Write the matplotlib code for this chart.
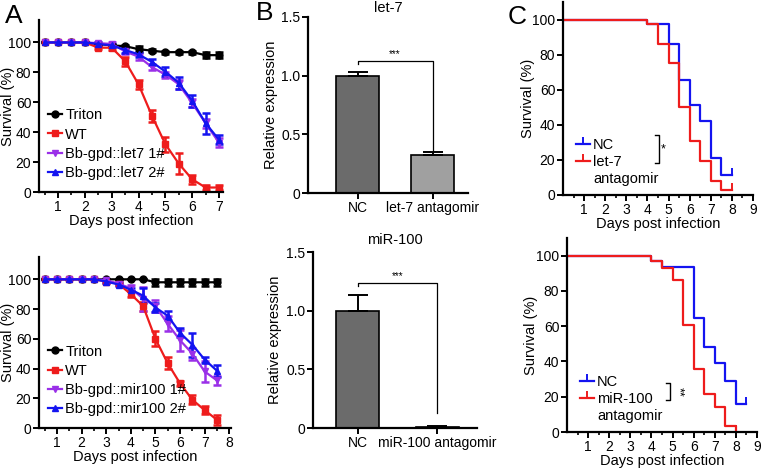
import numpy as np
import matplotlib
matplotlib.use("Agg")
import matplotlib.pyplot as plt
from matplotlib.lines import Line2D

plt.rcParams['font.family'] = ['Liberation Sans', 'DejaVu Sans']

# ---- panel A data (survival %, mean and error) ----
days_a1 = [0.5, 1, 1.5, 2, 2.5, 3, 3.5, 4, 4.5, 5, 5.5, 6, 6.5, 7]
triton_1 = [100, 100, 100, 100, 99, 98, 97.5, 95.5, 94.5, 93.5, 93.5, 93.5, 91.5, 91.5]
triton_1_err = [0, 0, 0, 0, 0.5, 1, 1, 2, 1, 1, 1, 1, 2, 2]
wt_1 = [100, 100, 100, 100, 96.5, 96.5, 87.5, 72, 51, 32, 19, 8.5, 3, 3]
wt_1_err = [0, 0, 0, 0, 1, 1.5, 3, 3, 4, 5, 7, 3, 1.5, 1.5]
let7_1 = [100, 100, 100, 100, 99.5, 99, 94, 90.5, 83.5, 78.5, 72, 59.5, 46, 33]
let7_1_err = [0, 0, 0, 0, 1, 1, 2, 2, 2, 2, 3, 3, 3, 3]
let7_2 = [100, 100, 100, 100, 99, 98, 95, 92, 87, 80.5, 73, 61, 46, 35]
let7_2_err = [0, 0, 0, 0, 1, 1, 2, 1.5, 2, 3, 4, 4, 7, 3]

days_a2 = [0.5, 1, 1.5, 2, 2.5, 3, 3.5, 4, 4.5, 5, 5.5, 6, 6.5, 7, 7.5]
triton_2 = [100, 100, 100, 100, 100, 100, 100, 100, 100, 98, 98, 98, 98, 98, 98]
triton_2_err = [0, 0, 0, 0, 0, 0, 0, 0, 0, 2.5, 2.5, 2.5, 2.5, 2.5, 2.5]
wt_2 = [100, 100, 100, 100, 100, 98.5, 97, 90, 82, 60, 43.5, 30, 19, 12, 5.5]
wt_2_err = [0, 0, 0, 0, 0, 1, 1, 2, 3, 5, 4, 1.5, 3, 2.5, 3.5]
mir_1 = [100, 100, 100, 100, 100, 99.5, 97, 94, 87, 82, 70, 59, 50, 38, 32]
mir_1_err = [0, 0, 0, 0, 0, 1, 1, 2, 8, 4, 5, 7, 4, 7, 3]
mir_2 = [100, 100, 100, 100, 100, 98.5, 96.5, 93, 89, 81, 75.5, 64, 56, 46, 38.5]
mir_2_err = [0, 0, 0, 0, 0, 1, 1, 1, 5, 3, 3, 3, 8, 2, 4]

# ---- panel B data (relative expression) ----
b1_cats = ['NC', 'let-7 antagomir']
b1_vals = [1.0, 0.32]
b1_err = [0.035, 0.03]
b2_cats = ['NC', 'miR-100 antagomir']
b2_vals = [1.0, 0.01]
b2_err = [0.13, 0.005]

# ---- panel C data (Kaplan-Meier steps) ----
nc1_t = [0, 4, 5, 5.5, 6, 6.5, 7, 7.5, 8]
nc1_s = [100, 97.7, 86.3, 65.3, 51.2, 41.9, 21, 11.4, 11.4]
ant1_t = [0, 4, 4.5, 5, 5.5, 6, 6.5, 7, 7.5, 8]
ant1_s = [100, 97.7, 86.3, 75.2, 50.1, 30.5, 19.4, 8.2, 2.7, 2.7]
nc2_t = [0, 4, 4.5, 6, 6.5, 7, 7.5, 8, 8.5]
nc2_s = [100, 96.8, 93.7, 64.5, 48.1, 38.9, 29, 16, 16]
ant2_t = [0, 4, 4.5, 5, 5.5, 6, 6.5, 7, 7.5, 8]
ant2_s = [100, 96.8, 93.1, 86.1, 60.9, 35.7, 21.4, 14.1, 3.2, 0]

RED = '#ee1c1c'
BLUE = '#1414f0'
PURPLE = '#9a30e8'

W, H = 762, 469
fig = plt.figure(figsize=(W / 100, H / 100), dpi=100)


def px_axes(left, top, right, bottom):
    # axes placed by pixel box of the reference
    return fig.add_axes([left / W, 1 - bottom / H, (right - left) / W, (bottom - top) / H])


def style(ax):
    ax.spines['top'].set_visible(False)
    ax.spines['right'].set_visible(False)
    for s in ['left', 'bottom']:
        ax.spines[s].set_linewidth(1.6)
    ax.tick_params(which='major', direction='out', length=4, width=1.4, labelsize=10, pad=1.5)
    ax.tick_params(which='minor', direction='out', length=2.5, width=1.2)


def survival_panel(ax, days, series, xlim, xmax_tick, labels, ylab_x):
    for (vals, err, color, marker), lab in zip(series, labels):
        ax.errorbar(days, vals, yerr=err, color=color, marker=marker, ms=5,
                    lw=1.6, elinewidth=1.8, capsize=3, capthick=1.8, label=lab)
    ax.set_xlim(*xlim)
    ax.set_ylim(0, 115)
    ax.set_xticks(range(1, xmax_tick + 1))
    ax.set_xticks(np.arange(0.5, xmax_tick + 0.01, 0.5), minor=True)
    ax.set_yticks([0, 20, 40, 60, 80, 100])
    ax.set_xlabel('Days post infection', fontsize=10.5, labelpad=0)
    ax.set_ylabel('Survival (%)', fontsize=10.5)
    ax.yaxis.set_label_coords(ylab_x, 0.5)
    style(ax)
    handles, labs = ax.get_legend_handles_labels()
    handles = [h[0] for h in handles]
    ax.legend(handles, labs, loc='lower left', bbox_to_anchor=(0.0, 0.02),
              frameon=False, fontsize=10.5, handlelength=1.0, handletextpad=0.2,
              labelspacing=0.35, borderaxespad=0.2)


# Panel A top
axA1 = px_axes(39, 20, 223, 192)
survival_panel(axA1, days_a1,
               [(triton_1, triton_1_err, 'black', 'o'),
                (wt_1, wt_1_err, RED, 's'),
                (let7_1, let7_1_err, PURPLE, 'v'),
                (let7_2, let7_2_err, BLUE, '^')],
               (0.29, 7.15), 7,
               ['Triton', 'WT', 'Bb-gpd::let7 1#', 'Bb-gpd::let7 2#'], -0.132)

# Panel A bottom
axA2 = px_axes(39, 257, 231, 428)
survival_panel(axA2, days_a2,
               [(triton_2, triton_2_err, 'black', 'o'),
                (wt_2, wt_2_err, RED, 's'),
                (mir_1, mir_1_err, PURPLE, 'v'),
                (mir_2, mir_2_err, BLUE, '^')],
               (0.27, 8.07), 8,
               ['Triton', 'WT', 'Bb-gpd::mir100 1#', 'Bb-gpd::mir100 2#'], -0.127)


def bar_panel(ax, cats, vals, err, title, xlim, width, bracket_y, right_end, ylab_x, title_y):
    x = np.arange(len(cats))
    ax.bar(x, vals, width=width, color=['#6b6b6b', '#a0a0a0'], edgecolor='black', linewidth=1.2)
    ax.errorbar(x, vals, yerr=[[0] * len(err), err], fmt='none', ecolor='black',
                elinewidth=1.4, capsize=7, capthick=1.4)
    ax.set_xlim(*xlim)
    ax.set_ylim(0, 1.5)
    ax.set_xticks(x)
    ax.set_xticklabels(cats)
    ax.set_yticks([0, 0.5, 1.0, 1.5])
    ax.set_yticklabels(['0', '0.5', '1.0', '1.5'])
    ax.set_ylabel('Relative expression', fontsize=10.5)
    ax.yaxis.set_label_coords(ylab_x, 0.5)
    ax.text(0.5, title_y, title, transform=ax.transAxes, ha='center', va='center', fontsize=10.5)
    style(ax)
    ax.plot([0, 0, 1, 1], [bracket_y - 0.025, bracket_y, bracket_y, right_end],
            color='black', lw=0.9, clip_on=False)
    ax.text(0.5, bracket_y + 0.015, '***', ha='center', va='bottom', fontsize=7)


axB1 = px_axes(308, 17, 468, 193)
bar_panel(axB1, b1_cats, b1_vals, b1_err, 'let-7', (-0.66, 1.47), 0.573, 1.125, 0.35,
          -0.1875, 1.05)

axB2 = px_axes(313, 252, 477, 428)
bar_panel(axB2, b2_cats, b2_vals, b2_err, 'miR-100', (-0.56, 1.50), 0.54, 1.236, 0.13,
          -0.189, 1.07)


def km_panel(ax, curves, labels, br_x, br_y0, br_y1, star, star_rot, ylab_x):
    handles = []
    for (t, s, color) in curves:
        h, = ax.step(t, s, where='post', color=color, lw=1.6, marker=2, ms=5,
                     mew=1.4, markevery=[len(t) - 1])
        handles.append(h)
    ax.set_xlim(0, 9)
    ax.set_ylim(0, 110)
    ax.set_xticks(range(1, 10))
    ax.set_xticks(np.arange(0.5, 9.01, 0.5), minor=True)
    ax.set_yticks([0, 20, 40, 60, 80, 100])
    ax.set_xlabel('Days post infection', fontsize=10.5, labelpad=0)
    ax.set_ylabel('Survival (%)', fontsize=10.5)
    ax.yaxis.set_label_coords(ylab_x, 0.5)
    style(ax)
    handles.append(Line2D([], [], color='none'))
    ax.legend(handles, labels, loc='lower left', bbox_to_anchor=(0.02, 0.0),
              frameon=False, fontsize=10.5, handlelength=1.0, handletextpad=0.2,
              labelspacing=0.2, borderaxespad=0.2)
    ax.plot([br_x - 0.2, br_x, br_x, br_x - 0.2], [br_y0, br_y0, br_y1, br_y1],
            color='black', lw=1.0)
    ax.text(br_x + 0.1, (br_y0 + br_y1) / 2, star, rotation=star_rot,
            ha='left', va='center', fontsize=9)


axC1 = px_axes(563, 2, 753, 195)
km_panel(axC1, [(nc1_t, nc1_s, BLUE), (ant1_t, ant1_s, RED)],
         ['NC', 'let-7', 'antagomir'], 4.55, 18, 34, '*', 0, -0.147)

axC2 = px_axes(567, 238, 757, 432)
km_panel(axC2, [(nc2_t, nc2_s, BLUE), (ant2_t, ant2_s, RED)],
         ['NC', 'miR-100', 'antagomir'], 4.88, 18, 28, '**', 270, -0.153)

# panel letters
fig.text(5 / W, 1 - 16 / H, 'A', fontsize=19, va='center', ha='left')
fig.text(256 / W, 1 - 13 / H, 'B', fontsize=19, va='center', ha='left')
fig.text(508 / W, 1 - 17 / H, 'C', fontsize=19, va='center', ha='left')

fig.savefig('out.png', dpi=100)
